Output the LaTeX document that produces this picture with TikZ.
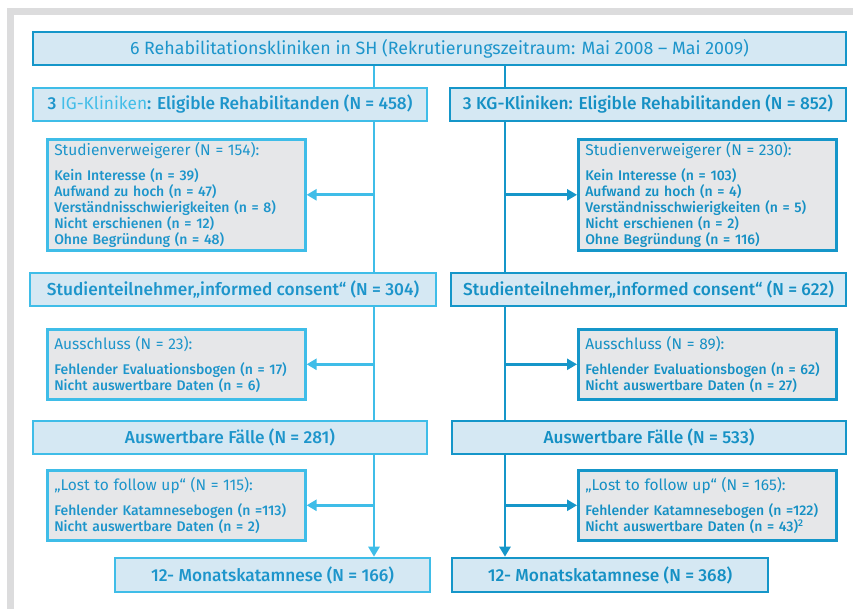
\documentclass[tikz,border=0pt]{standalone}
\usepackage{fontspec}
\setmainfont{Fira Sans}[BoldFont={Fira Sans Medium}]
\usepackage{tikz}
\usetikzlibrary{positioning,arrows.meta}
\definecolor{lightline}{HTML}{3FBDE8}
\definecolor{darkline}{HTML}{1596C9}
\definecolor{boxfill}{HTML}{D5E8F3}
\definecolor{greyfill}{HTML}{E6E7E9}
\definecolor{lighttext}{HTML}{1D95CB}
\definecolor{paletext}{HTML}{42BDE8}
\definecolor{darktext}{HTML}{1590C4}
\definecolor{framegrey}{HTML}{DCDCDD}

\begin{document}
\begin{tikzpicture}[
  x=1pt, y=-1pt,
  mainbox/.style={
    draw,
    fill=boxfill,
    line width=2.6pt,
    minimum height=33pt,
    inner sep=0pt,
    font=\fontsize{17.8}{20}\selectfont,
  },
  igbox/.style={mainbox, draw=lightline, text=lighttext, font=\fontsize{17.3}{20}\selectfont\bfseries},
  kgbox/.style={mainbox, draw=darkline, text=darktext, font=\fontsize{17.3}{20}\selectfont\bfseries},
  greybox/.style={
    draw,
    fill=greyfill,
    line width=2.6pt,
    anchor=north west,
    align=left,
    text width=244pt,
    inner xsep=7pt,
    inner ysep=0pt,
    font=\fontsize{14}{16}\selectfont\bfseries,
  },
  iggrey/.style={greybox, draw=lightline, text=lighttext},
  kggrey/.style={greybox, draw=darkline, text=darktext},
  igline/.style={draw=lightline, line width=2.6pt},
  kgline/.style={draw=darkline, line width=2.6pt},
  igarrow/.style={igline, -{Triangle[length=10pt,width=11pt]}},
  kgarrow/.style={kgline, -{Triangle[length=10pt,width=11pt]}},
]
  \useasboundingbox (0,0) rectangle (853,609);
  \draw[framegrey, line width=7pt] (10,609) -- (10,11.5) -- (853,11.5);

  \coordinate (igx) at (374,0);
  \coordinate (kgx) at (505,0);

  \node[mainbox, draw=darkline, text=lighttext, minimum width=813pt] (top) at (439.5,48.5)
    {6 Rehabilitationskliniken in SH (Rekrutierungszeitraum: Mai 2008 – Mai 2009)};

  \node[igbox, minimum width=394pt] (igElig) at (230,104.5)
    {3 \textcolor{paletext}{\mdseries IG-Kliniken}: Eligible Rehabilitanden (N = 458)};
  \node[kgbox, minimum width=396pt] (kgElig) at (648,104.5)
    {3 KG-Kliniken: Eligible Rehabilitanden (N = 852)};

  \node[iggrey, minimum height=111pt] (igVerw) at (46,138)
    {{\fontsize{15.5}{16}\selectfont\mdseries Studienverweigerer (N = 154):}\\[9pt]
     Kein Interesse (n = 39)\\
     Aufwand zu hoch (n = 47)\\
     Verständnisschwierigkeiten (n = 8)\\
     Nicht erschienen (n = 12)\\
     Ohne Begründung (n = 48)};
  \node[kggrey, minimum height=111pt] (kgVerw) at (577,138)
    {{\fontsize{15.5}{16}\selectfont\mdseries Studienverweigerer (N = 230):}\\[9pt]
     Kein Interesse (n = 103)\\
     Aufwand zu hoch (n = 4)\\
     Verständnisschwierigkeiten (n = 5)\\
     Nicht erschienen (n = 2)\\
     Ohne Begründung (n = 116)};

  \node[igbox, minimum width=406pt] (igTeil) at (233,289.5)
    {Studienteilnehmer„informed consent“ (N = 304)};
  \node[kgbox, minimum width=395pt] (kgTeil) at (648.5,289.5)
    {Studienteilnehmer„informed consent“ (N = 622)};

  \node[iggrey, minimum height=70pt] (igAus) at (46,328)
    {{\fontsize{15.5}{16}\selectfont\mdseries Ausschluss (N = 23):}\\[9pt]
     Fehlender Evaluationsbogen (n = 17)\\
     Nicht auswertbare Daten (n = 6)};
  \node[kggrey, minimum height=70pt] (kgAus) at (577,328)
    {{\fontsize{15.5}{16}\selectfont\mdseries Ausschluss (N = 89):}\\[9pt]
     Fehlender Evaluationsbogen (n = 62)\\
     Nicht auswertbare Daten (n = 27)};

  \node[igbox, minimum width=394pt] (igFaelle) at (230,437.5)
    {Auswertbare Fälle (N = 281)};
  \node[kgbox, minimum width=394pt] (kgFaelle) at (649,437.5)
    {Auswertbare Fälle (N = 533)};

  \node[iggrey, minimum height=70pt] (igLost) at (46,469)
    {{\fontsize{15.5}{16}\selectfont\mdseries „Lost to follow up“ (N = 115):}\\[9pt]
     Fehlender Katamnesebogen (n =113)\\
     Nicht auswertbare Daten (n = 2)};
  \node[kggrey, minimum height=70pt] (kgLost) at (577,469)
    {{\fontsize{15.5}{16}\selectfont\mdseries „Lost to follow up“ (N = 165):}\\[9pt]
     Fehlender Katamnesebogen (n =122)\\
     Nicht auswertbare Daten (n = 43)\textsuperscript{2}};

  \node[igbox, minimum width=315pt, minimum height=34pt] (igKat) at (272.5,575)
    {12- Monatskatamnese (N = 166)};
  \node[kgbox, minimum width=316pt, minimum height=34pt] (kgKat) at (610,575)
    {12- Monatskatamnese (N = 368)};

  \draw[igline] (top.south -| igx) -- (igElig.north -| igx);
  \draw[kgline] (top.south -| kgx) -- (kgElig.north -| kgx);

  \draw[igline] (igElig.south -| igx) -- (igTeil.north -| igx);
  \draw[igarrow] (igVerw.east -| igx) -- (igVerw.east);
  \draw[kgline] (kgElig.south -| kgx) -- (kgTeil.north -| kgx);
  \draw[kgarrow] (kgVerw.west -| kgx) -- (kgVerw.west);

  \draw[igline] (igTeil.south -| igx) -- (igFaelle.north -| igx);
  \draw[igarrow] (igAus.east -| igx) -- (igAus.east);
  \draw[kgline] (kgTeil.south -| kgx) -- (kgFaelle.north -| kgx);
  \draw[kgarrow] (kgAus.west -| kgx) -- (kgAus.west);

  \draw[igarrow] (igFaelle.south -| igx) -- (igKat.north -| igx);
  \draw[igarrow] (igLost.east -| igx) -- (igLost.east);
  \draw[kgarrow] (kgFaelle.south -| kgx) -- (kgKat.north -| kgx);
  \draw[kgarrow] (kgLost.west -| kgx) -- (kgLost.west);
\end{tikzpicture}
\end{document}
